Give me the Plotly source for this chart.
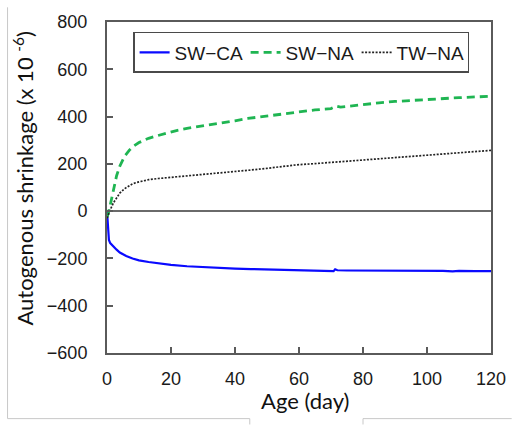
import plotly.graph_objects as go

# Age (days) and autogenous shrinkage (x 10^-6) for each mix
age_ca = [0, 0.2, 0.4, 0.6, 1, 2, 3, 4, 6, 8, 10, 13, 16, 20, 25, 30, 35, 40,
          45, 50, 55, 60, 65, 70, 70.8, 71.3, 72, 75, 80, 85, 90, 95, 100,
          105, 108, 110, 115, 120]
sw_ca = [0, -40, -90, -122, -135, -150, -163, -175, -190, -200, -208, -215,
         -221, -227, -233, -237, -240, -243, -245, -247, -248, -250, -252,
         -254, -254, -246, -250, -251, -251, -252, -252, -252, -252, -253,
         -255, -253, -254, -254]

age_na = [0, 0.5, 1, 1.5, 2, 3, 4, 5.5, 7, 8, 10, 13, 16, 18.4, 22, 25, 28.6,
          32, 35, 40, 44, 50, 55, 59.4, 65, 70, 71.7, 73, 80, 85, 90, 100,
          110, 120]
sw_na = [-25, -5, 25, 60, 95, 150, 190, 232, 258, 272, 290, 308, 320, 330,
         342, 350, 357, 365, 371, 382, 392, 402, 411, 420, 428, 434, 444, 440,
         452, 458, 464, 473, 480, 486]

age_tw = [0, 0.5, 1, 2, 3, 4, 5.5, 7, 8, 10, 13, 16, 18.4, 22, 25, 28.6, 35,
          40, 45, 50, 55, 59.4, 65, 70, 75, 80, 85, 90, 100, 110, 120]
tw_na = [-30, -10, 5, 35, 54, 76, 95, 108, 116, 124, 133, 138, 141, 145, 148,
         151, 160, 166, 174, 181, 189, 196, 201, 206, 212, 217, 222, 226, 236,
         246, 257]

x_ticks = [0, 20, 40, 60, 80, 100, 120]
y_ticks = [-600, -400, -200, 0, 200, 400, 600, 800]

AXIS_COLOR = "#5a5a5a"
TICK_FONT = dict(family="Liberation Sans, Arial, sans-serif", size=18, color="#1a1a1a")
TITLE_FONT = dict(family="Lato, Carlito, sans-serif", size=22, color="#111111")

fig = go.Figure()
fig.add_trace(go.Scatter(x=age_ca, y=sw_ca, mode="lines", name="SW\u2212CA",
                         line=dict(color="#0a0aff", width=2.2)))
fig.add_trace(go.Scatter(x=age_na, y=sw_na, mode="lines", name="SW\u2212NA",
                         line=dict(color="#1fb552", width=2.8, dash="8px,5px")))
fig.add_trace(go.Scatter(x=age_tw, y=tw_na, mode="lines", name="TW\u2212NA",
                         line=dict(color="#222222", width=1.7, dash="2px,1.5px")))

fig.update_layout(
    width=518, height=426,
    margin=dict(l=107, r=21, t=15, b=73),
    paper_bgcolor="white", plot_bgcolor="white",
    showlegend=True,
    legend=dict(
        orientation="h", x=0.068, y=0.970, xanchor="left", yanchor="top",
        font=dict(family="Liberation Sans, Arial, sans-serif", size=19, color="#1a1a1a"),
        bordercolor="#4a4a4a", borderwidth=1.5, bgcolor="white",
        entrywidth=66, entrywidthmode="pixels",
        itemwidth=30, tracegroupgap=0,
    ),
    xaxis=dict(
        range=[0, 120], tickvals=x_ticks, showgrid=False, zeroline=False,
        showline=True, linecolor=AXIS_COLOR, linewidth=2, mirror=True,
        ticks="inside", ticklen=6, tickwidth=1.5, tickcolor=AXIS_COLOR,
        tickfont=TICK_FONT, ticklabelstandoff=8,
    ),
    yaxis=dict(
        range=[-600, 800], tickvals=y_ticks, showgrid=False,
        zeroline=True, zerolinecolor="#6a6a6a", zerolinewidth=1.6,
        showline=True, linecolor=AXIS_COLOR, linewidth=2, mirror=True,
        ticks="inside", ticklen=6, tickwidth=1.5, tickcolor=AXIS_COLOR,
        tickfont=TICK_FONT, ticklabelstandoff=14,
    ),
    annotations=[
        dict(text="Autogenous shrinkage (x 10 <sup>-6</sup>)", textangle=-90,
             xref="paper", yref="paper", x=-0.218, y=0.528,
             xanchor="center", yanchor="middle", showarrow=False, font=TITLE_FONT),
        dict(text="Age (day)", xref="paper", yref="paper", x=0.515, y=-0.145,
             xanchor="center", yanchor="middle", showarrow=False, font=TITLE_FONT),
    ],
)

# Light outer frame of the chart area, broken around the x-axis title
frame = dict(color="#c8c8c8", width=1)
for x0, y0, x1, y1 in [(6, 0, 6, 420), (6, 420, 252, 420), (252, 420, 252, 426),
                       (367, 420, 518, 420), (367, 420, 367, 426)]:
    fig.add_shape(type="line", xref="paper", yref="paper",
                  x0=(x0 - 107) / 390, x1=(x1 - 107) / 390,
                  y0=(353 - y0) / 338, y1=(353 - y1) / 338, line=frame)

fig.write_html("out.html")
